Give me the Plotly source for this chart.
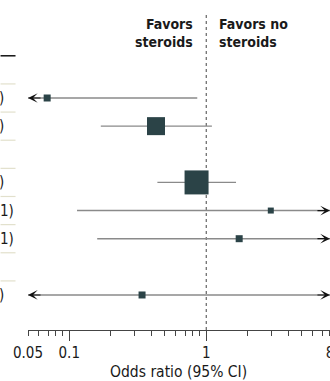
import numpy as np
import plotly.graph_objects as go

# ---------------- data ----------------
row_pos = [1, 2, 4, 5, 6, 8]                 # row slots (3 and 7 are heading rows)
odds_ratio = [0.069, 0.43, 0.85, 2.96, 1.74, 0.34]
ci_low = [0.03, 0.17, 0.44, 0.114, 0.16, 0.01]
ci_high = [0.86, 1.10, 1.65, 80.0, 20.0, 20.0]
weight = [4.9, 32.4, 57.6, 3.6, 4.9, 4.9]   # study weight (drives square size)
row_text = [")", ")", ")", "1)", "1)", ")"]  # visible ends of the cropped table column
tick_vals = [0.05, 0.1, 1, 8]
tick_text = ["0.05", "0.1", "1", "8"]
minor_vals = [0.06, 0.07, 0.08, 0.09, 0.2, 0.3, 0.4, 0.5, 0.6, 0.7, 0.8, 0.9,
              2, 3, 4, 5, 6, 7]
long_ticks = [0.1, 1]
x_min, x_max = 0.05, 8

# ---------------- layout geometry ----------------
W, H = 330, 381
ML, MB = 27.5, 51
PW, PH = W - ML, H - MB
row_h = 28.14
row1_px = 98
y_top = 1 - row1_px / row_h
y_bot = 1 + (PH - row1_px) / row_h

def py(v):  # pixel -> paper y
    return 1 - v / PH

def px(v):  # pixel -> paper x
    return (v - ML) / PW

FONT = "DejaVu Sans Condensed, Liberation Sans Narrow, Roboto, sans-serif"
SQ = "#2b4347"
TXT = "#1a1a1a"

fig = go.Figure()

# dotted null line
fig.add_trace(go.Scatter(x=[1, 1], y=[1 + (15 - row1_px) / row_h, y_bot], mode="lines",
                         line=dict(color="#444", width=1, dash="dot"),
                         hoverinfo="skip", showlegend=False))

annotations = []
wmax = max(weight)
for r, o, lo, hi, w in zip(row_pos, odds_ratio, ci_low, ci_high, weight):
    lo_c = max(lo, x_min)
    hi_c = min(hi, x_max)
    fig.add_trace(go.Scatter(x=[lo_c, hi_c], y=[r, r], mode="lines",
                             line=dict(color="#8a8a8a", width=1.4),
                             hoverinfo="skip", showlegend=False))
    if lo < x_min:
        annotations.append(dict(x=np.log10(x_min), y=r, xref="x", yref="y", text="",
                                showarrow=True, ax=14, ay=0, arrowhead=3,
                                arrowsize=1.35, arrowwidth=1.2, arrowcolor="#111",
                                standoff=0))
    if hi > x_max:
        annotations.append(dict(x=np.log10(x_max), y=r, xref="x", yref="y", text="",
                                showarrow=True, ax=-14, ay=0, arrowhead=3,
                                arrowsize=1.35, arrowwidth=1.2, arrowcolor="#111",
                                standoff=0))

sizes = [24 * np.sqrt(w / wmax) for w in weight]
fig.add_trace(go.Scatter(x=odds_ratio, y=row_pos, mode="markers",
                         marker=dict(symbol="square", size=sizes, color=SQ, opacity=1,
                                     line=dict(width=0)),
                         hoverinfo="skip", showlegend=False))

# invisible trace for the long-tick axis
fig.add_trace(go.Scatter(x=[1], y=[1], xaxis="x2", mode="markers",
                         marker=dict(opacity=0), hoverinfo="skip", showlegend=False))

# table separator stubs (cut-off table on the left)
shapes = []
sep_rows = [0.5, 1.5, 2.5, 3.5, 4.5, 5.5, 6.5, 7.5]
for s in sep_rows:
    shapes.append(dict(type="line", xref="paper", yref="y", x0=px(0), x1=px(15),
                       y0=s, y1=s, line=dict(color="#e2e0cc", width=1.2)))
shapes.append(dict(type="line", xref="paper", yref="y", x0=px(0), x1=px(15),
                   y0=-0.5, y1=-0.5, line=dict(color="#111", width=1.5)))

# visible ends of the cut-off row text
right_edges = [5, 5, 5, 15, 15, 5]
for r, t, re_ in zip(row_pos, row_text, right_edges):
    annotations.append(dict(x=px(re_), y=r, xref="paper", yref="y", text=t,
                            showarrow=False, xanchor="right", yanchor="middle",
                            font=dict(family=FONT, size=15, color=TXT)))

# header
annotations.append(dict(x=0, y=py(33), xref="x", yref="paper", xshift=-11,
                        text="<b>Favors</b><br><b>steroids</b>", showarrow=False,
                        xanchor="right", yanchor="middle", align="right",
                        font=dict(family=FONT, size=14, color=TXT)))
annotations.append(dict(x=0, y=py(33), xref="x", yref="paper", xshift=11,
                        text="<b>Favors no</b><br><b>steroids</b>", showarrow=False,
                        xanchor="left", yanchor="middle", align="left",
                        font=dict(family=FONT, size=14, color=TXT)))

# axis title centered on the axis span
annotations.append(dict(x=(np.log10(x_min) + np.log10(x_max)) / 2, y=py(372),
                        xref="x", yref="paper", text="Odds ratio (95% CI)",
                        showarrow=False, xanchor="center", yanchor="middle",
                        font=dict(family=FONT, size=15.5, color=TXT)))

xr = [np.log10(x_min), np.log10(x_max) + 0.0004]
fig.update_layout(
    width=W, height=H,
    margin=dict(l=ML, r=0, t=0, b=MB, pad=0, autoexpand=False),
    paper_bgcolor="white", plot_bgcolor="white",
    showlegend=False,
    font=dict(family=FONT, color=TXT),
    xaxis=dict(type="log", range=xr, showgrid=False, zeroline=False,
               automargin=False,
               showline=True, linecolor="#444", linewidth=1,
               tickmode="array", tickvals=tick_vals, ticktext=tick_text,
               ticks="outside", ticklen=5, tickcolor="#444", tickwidth=1,
               ticklabelstandoff=4, ticklabeloverflow="allow",
               tickfont=dict(family=FONT, size=15, color=TXT),
               minor=dict(tickmode="array", tickvals=minor_vals, ticks="outside",
                          ticklen=5, tickcolor="#444", tickwidth=1, showgrid=False)),
    xaxis2=dict(type="log", range=xr, overlaying="x", anchor="y", side="bottom",
                automargin=False,
                showgrid=False, zeroline=False, showline=False,
                tickmode="array", tickvals=long_ticks, ticks="outside",
                ticklen=10, tickcolor="#444", tickwidth=1, showticklabels=False),
    yaxis=dict(range=[y_bot, y_top], visible=False, showgrid=False, zeroline=False,
               automargin=False),
    shapes=shapes, annotations=annotations,
)

fig.write_html("out.html")
